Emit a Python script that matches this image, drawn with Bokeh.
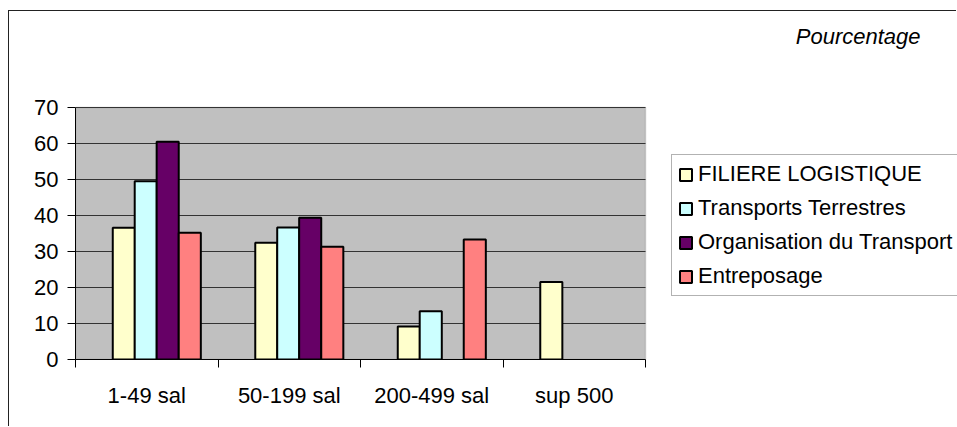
from bokeh.plotting import figure
from bokeh.models import (ColumnDataSource, Range1d, FixedTicker, Legend, LegendItem,
                          Label, BoxAnnotation)
from bokeh.embed import file_html
from bokeh.resources import INLINE
import numpy as np

# Share of companies by workforce size, per sector (%)
categories = ["1-49 sal", "50-199 sal", "200-499 sal", "sup 500"]
filiere = [36.6, 32.4, 9.2, 21.5]
transports = [49.5, 36.7, 13.4, None]
organisation = [60.5, 39.4, None, None]
entreposage = [35.2, 31.3, 33.3, None]
series_names = ["FILIERE LOGISTIQUE", "Transports Terrestres",
                "Organisation du Transport", "Entreposage"]
y_ticks = [0, 10, 20, 30, 40, 50, 60, 70]
y_max = 70

colors = ["#FFFFCC", "#CCFFFF", "#660066", "#FF8080"]
FONT = "Liberation Sans"
FS = "22px"

# canvas sits inside a thin top/left chart-area line
OX, OY = 9, 11
W, H = 957 - OX, 427 - OY
AX_LEFT, AX_BOTTOM = 75 - OX, 359 - OY        # axis origin on the canvas
PX_PER_CAT, PX_PER_UNIT = 142.5, 3.6

frame_w, frame_h = W - AX_LEFT, AX_BOTTOM
n = len(categories)

p = figure(width=W, height=H, output_backend="svg", toolbar_location=None,
           x_range=Range1d(0, frame_w / PX_PER_CAT), y_range=Range1d(0, frame_h / PX_PER_UNIT),
           min_border_left=AX_LEFT, min_border_right=0,
           min_border_top=0, min_border_bottom=H - AX_BOTTOM,
           background_fill_color="white", border_fill_color="white",
           margin=(OY - 1, 0, 0, OX - 1),
           styles={"border-top": "1px solid #222222",
                   "border-left": "1px solid #222222"})
p.outline_line_color = None
p.xgrid.visible = False
p.ygrid.visible = False

# grey plot area with its border
p.add_layout(BoxAnnotation(left=0, right=n, bottom=0, top=y_max,
                           fill_color="#C0C0C0", fill_alpha=1,
                           line_color="#808080", line_width=1.5, level="underlay"))

# horizontal gridlines across the plot area
p.segment(x0=[0] * len(y_ticks), x1=[n] * len(y_ticks), y0=y_ticks, y1=y_ticks,
          line_color="#333333", line_width=1)

centers = np.arange(n) + 0.5
bar_w = 0.155
offsets = [-0.161, -0.007, 0.147, 0.302]

def to_arr(vals):
    return np.array([np.nan if v is None else v for v in vals], dtype=float)

renderers = []
for vals, off, col in zip([filiere, transports, organisation, entreposage], offsets, colors):
    src = ColumnDataSource(dict(x=centers + off, top=to_arr(vals)))
    r = p.vbar(x="x", top="top", bottom=0, width=bar_w, source=src,
               fill_color=col, line_color="black", line_width=2)
    renderers.append(r)

# y axis
ya = p.yaxis[0]
ya.bounds = (0, y_max)
ya.ticker = FixedTicker(ticks=y_ticks)
ya.axis_line_color = "black"
ya.major_tick_in = 0
ya.major_tick_out = 8
ya.major_tick_line_color = "black"
ya.minor_tick_line_color = None
ya.major_label_standoff = 9
ya.major_label_text_font = FONT
ya.major_label_text_font_size = FS
ya.major_label_text_color = "black"

# x axis: tick marks on category boundaries, labels at centres
xa = p.xaxis[0]
xa.bounds = (0, n)
xa.ticker = FixedTicker(ticks=list(centers), minor_ticks=list(range(n + 1)))
xa.major_label_overrides = {float(c): lab for c, lab in zip(centers, categories)}
xa.axis_line_color = "black"
xa.major_tick_line_color = None
xa.major_tick_in = 0
xa.major_tick_out = 0
xa.minor_tick_line_color = "black"
xa.minor_tick_in = 0
xa.minor_tick_out = 8
xa.major_label_standoff = 15
xa.major_label_text_font = FONT
xa.major_label_text_font_size = FS
xa.major_label_text_color = "black"

# legend to the right of the plot area
items = [LegendItem(label=nm, renderers=[r]) for nm, r in zip(series_names, renderers)]
legend = Legend(items=items, location=(596, 63), orientation="vertical",
                glyph_width=15, glyph_height=15, label_height=20,
                label_standoff=5, spacing=8, padding=6, margin=0,
                label_text_font=FONT, label_text_font_size=FS,
                label_text_color="black",
                border_line_color="#666666", border_line_width=1,
                background_fill_color="white", background_fill_alpha=1)
p.add_layout(legend, "center")

# unit note, top right
p.add_layout(Label(x=845, y=323, x_units="screen", y_units="screen",
                   text="Pourcentage", text_font=FONT, text_font_size=FS,
                   text_font_style="italic", text_align="right",
                   text_baseline="alphabetic", text_color="black"))

open("out.html", "w").write(file_html(p, INLINE))
